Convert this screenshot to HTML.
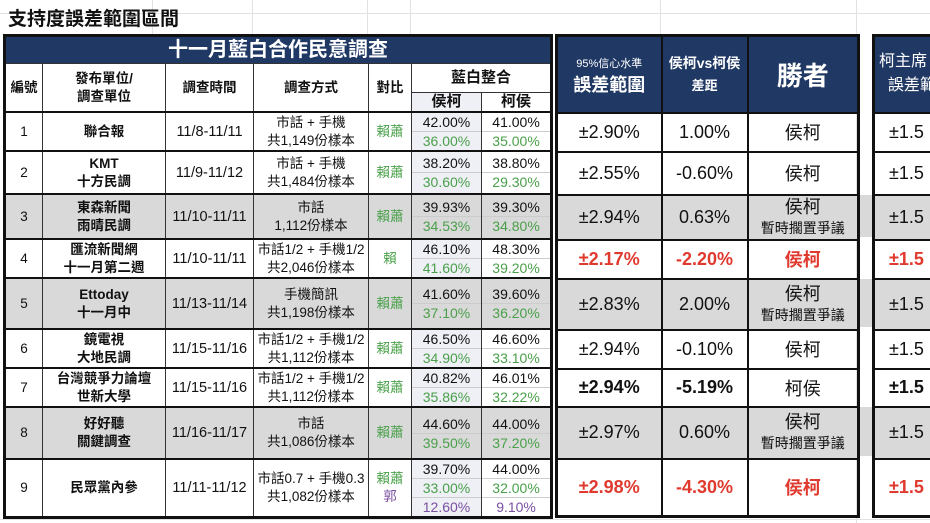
<!DOCTYPE html>
<html><head><meta charset="utf-8">
<style>
*{margin:0;padding:0;box-sizing:border-box}
body{width:930px;height:523px;overflow:hidden;background:#fff;font-family:"Liberation Sans","Noto Sans CJK TC",sans-serif;position:relative;color:#111}
.grid{position:absolute;background:#e2e2e2}
.t{position:absolute;left:8px;top:4px;font-size:19px;font-weight:bold;color:#111}
table{position:absolute;border-collapse:collapse;table-layout:fixed}
td{text-align:center;vertical-align:middle;padding:0;overflow:hidden;white-space:nowrap}
#L{left:3px;top:34px;border:3px solid #111}
#L td{border:1px solid #333;font-size:13.5px;line-height:18px}
#L tr.d td{border-top:2px solid #111;border-bottom:2px solid #111}
.hd{background:#1f3864;color:#fff;font-size:20px !important;font-weight:bold;height:28px}
.b{font-weight:bold}
.g{background:#d9d9d9}
.gn{color:#4aa04a}
.pu{color:#7a4fa0}
.red{color:#e03a2f;font-weight:bold}
.pc{padding:0 !important;background:#eef0f6}
.pc2{padding:0 !important}
.pc div,.pc2 div{height:50%;display:flex;align-items:center;justify-content:center;font-size:14px}
.pc div+div,.pc2 div+div{border-top:1px solid #ccc}
.g .pc,.g.pc,.g .pc2{background:#d9d9d9}
#R{left:555px;top:34px;border:3px solid #111}
#R td{border:2px solid #111;font-size:18px}
#R .h td{background:#1f3864;color:#fff;font-weight:bold;height:77px}
#F{left:872px;top:34px;border:3px solid #111;border-right:none}
#F td{border:2px solid #111;border-right:none;font-size:18px;text-align:left;padding-left:14px}
#F .h td{background:#1f3864;color:#fff;height:77px;line-height:24px;padding-left:4px}
.sm{font-size:14px}
</style></head><body>
<div class="grid" style="left:0;top:13px;width:930px;height:1px"></div>
<div class="grid" style="left:152px;top:0;width:1px;height:34px"></div>
<div class="grid" style="left:252px;top:0;width:1px;height:34px"></div>
<div class="grid" style="left:367px;top:0;width:1px;height:34px"></div>
<div class="grid" style="left:410px;top:0;width:1px;height:34px"></div>
<div class="grid" style="left:660px;top:0;width:1px;height:34px"></div>
<div class="grid" style="left:856px;top:0;width:1px;height:523px"></div>
<div class="grid" style="left:0;top:519px;width:930px;height:1px"></div>
<div class="g" style="position:absolute;left:857px;top:195px;width:16px;height:42px"></div>
<div class="g" style="position:absolute;left:857px;top:279px;width:16px;height:48px"></div>
<div class="g" style="position:absolute;left:857px;top:407px;width:16px;height:49px"></div>
<div class="t">支持度誤差範圍區間</div>

<table id="L" style="width:550px">
<colgroup><col style="width:38px"><col style="width:123px"><col style="width:88px"><col style="width:115px"><col style="width:43px"><col style="width:70px"><col style="width:70px"></colgroup>
<tr><td colspan="7" class="hd">十一月藍白合作民意調查</td></tr>
<tr style="height:29px"><td rowspan="2" class="b">編號</td><td rowspan="2" class="b">發布單位/<br>調查單位</td><td rowspan="2" class="b">調查時間</td><td rowspan="2" class="b">調查方式</td><td rowspan="2" class="b">對比</td><td colspan="2" class="b" style="font-size:15px">藍白整合</td></tr>
<tr style="height:19px"><td class="b" style="background:#eef0f6;font-size:15px">侯柯</td><td class="b" style="font-size:15px">柯侯</td></tr>
<tr class="d" style="height:39px"><td>1</td><td class="b">聯合報</td><td style="font-size:14.5px">11/8-11/11</td><td>市話 + 手機<br>共1,149份樣本</td><td class="gn">賴蕭</td><td class="pc"><div>42.00%</div><div class="gn">36.00%</div></td><td class="pc2"><div>41.00%</div><div class="gn">35.00%</div></td></tr>
<tr class="d" style="height:43px"><td>2</td><td class="b">KMT<br>十方民調</td><td style="font-size:14.5px">11/9-11/12</td><td>市話 + 手機<br>共1,484份樣本</td><td class="gn">賴蕭</td><td class="pc"><div>38.20%</div><div class="gn">30.60%</div></td><td class="pc2"><div>38.80%</div><div class="gn">29.30%</div></td></tr>
<tr class="d g" style="height:45px"><td>3</td><td class="b">東森新聞<br>雨晴民調</td><td style="font-size:14.5px">11/10-11/11</td><td>市話<br>1,112份樣本</td><td class="gn">賴蕭</td><td class="pc"><div>39.93%</div><div class="gn">34.53%</div></td><td class="pc2"><div>39.30%</div><div class="gn">34.80%</div></td></tr>
<tr class="d" style="height:39px"><td>4</td><td class="b">匯流新聞網<br>十一月第二週</td><td style="font-size:14.5px">11/10-11/11</td><td>市話1/2 + 手機1/2<br>共2,046份樣本</td><td class="gn">賴</td><td class="pc"><div>46.10%</div><div class="gn">41.60%</div></td><td class="pc2"><div>48.30%</div><div class="gn">39.20%</div></td></tr>
<tr class="d g" style="height:51px"><td>5</td><td class="b">Ettoday<br>十一月中</td><td style="font-size:14.5px">11/13-11/14</td><td>手機簡訊<br>共1,198份樣本</td><td class="gn">賴蕭</td><td class="pc"><div>41.60%</div><div class="gn">37.10%</div></td><td class="pc2"><div>39.60%</div><div class="gn">36.20%</div></td></tr>
<tr class="d" style="height:39px"><td>6</td><td class="b">鏡電視<br>大地民調</td><td style="font-size:14.5px">11/15-11/16</td><td>市話1/2 + 手機1/2<br>共1,112份樣本</td><td class="gn">賴蕭</td><td class="pc"><div>46.50%</div><div class="gn">34.90%</div></td><td class="pc2"><div>46.60%</div><div class="gn">33.10%</div></td></tr>
<tr class="d" style="height:38px"><td>7</td><td class="b">台灣競爭力論壇<br>世新大學</td><td style="font-size:14.5px">11/15-11/16</td><td>市話1/2 + 手機1/2<br>共1,112份樣本</td><td class="gn">賴蕭</td><td class="pc"><div>40.82%</div><div class="gn">35.86%</div></td><td class="pc2"><div>46.01%</div><div class="gn">32.22%</div></td></tr>
<tr class="d g" style="height:52px"><td>8</td><td class="b">好好聽<br>關鍵調查</td><td style="font-size:14.5px">11/16-11/17</td><td>市話<br>共1,086份樣本</td><td class="gn">賴蕭</td><td class="pc"><div>44.60%</div><div class="gn">39.50%</div></td><td class="pc2"><div>44.00%</div><div class="gn">37.20%</div></td></tr>
<tr class="d" style="height:58px"><td>9</td><td class="b">民眾黨內參</td><td style="font-size:14.5px">11/11-11/12</td><td>市話0.7 + 手機0.3<br>共1,082份樣本</td><td><span class="gn">賴蕭</span><br><span class="pu">郭</span></td><td class="pc"><div style="height:33.3%">39.70%</div><div style="height:33.3%" class="gn">33.00%</div><div style="height:33.4%" class="pu">12.60%</div></td><td class="pc2"><div style="height:33.3%">44.00%</div><div style="height:33.3%" class="gn">32.00%</div><div style="height:33.4%" class="pu">9.10%</div></td></tr>
</table>

<table id="R" style="width:302px">
<colgroup><col style="width:105px"><col style="width:86px"><col style="width:111px"></colgroup>
<tr class="h"><td><span style="font-size:11px;font-weight:normal">95%信心水準</span><br><span style="font-size:18px;line-height:26px">誤差範圍</span></td><td style="font-size:14px;line-height:22px">侯柯vs柯侯<br><span style="font-size:13px">差距</span></td><td style="font-size:26px">勝者</td></tr>
<tr style="height:39px"><td>±2.90%</td><td>1.00%</td><td>侯柯</td></tr>
<tr style="height:43px"><td>±2.55%</td><td>-0.60%</td><td>侯柯</td></tr>
<tr class="g" style="height:45px"><td>±2.94%</td><td>0.63%</td><td style="line-height:20px">侯柯<br><span class="sm">暫時擱置爭議</span></td></tr>
<tr style="height:39px"><td class="red">±2.17%</td><td class="red">-2.20%</td><td class="red">侯柯</td></tr>
<tr class="g" style="height:51px"><td>±2.83%</td><td>2.00%</td><td style="line-height:20px">侯柯<br><span class="sm">暫時擱置爭議</span></td></tr>
<tr style="height:39px"><td>±2.94%</td><td>-0.10%</td><td>侯柯</td></tr>
<tr style="height:38px"><td class="b">±2.94%</td><td class="b">-5.19%</td><td>柯侯</td></tr>
<tr class="g" style="height:52px"><td>±2.97%</td><td>0.60%</td><td style="line-height:20px">侯柯<br><span class="sm">暫時擱置爭議</span></td></tr>
<tr style="height:58px"><td class="red">±2.98%</td><td class="red">-4.30%</td><td class="red">侯柯</td></tr>
</table>

<table id="F" style="width:70px">
<colgroup><col style="width:70px"></colgroup>
<tr class="h"><td style="font-size:16px">柯主席<br>&nbsp;&nbsp;誤差範</td></tr>
<tr style="height:39px"><td>±1.5</td></tr>
<tr style="height:43px"><td>±1.5</td></tr>
<tr class="g" style="height:45px"><td>±1.5</td></tr>
<tr style="height:39px"><td class="red">±1.5</td></tr>
<tr class="g" style="height:51px"><td>±1.5</td></tr>
<tr style="height:39px"><td>±1.5</td></tr>
<tr style="height:38px"><td class="b">±1.5</td></tr>
<tr class="g" style="height:52px"><td>±1.5</td></tr>
<tr style="height:58px"><td class="red">±1.5</td></tr>
</table>
</body></html>
